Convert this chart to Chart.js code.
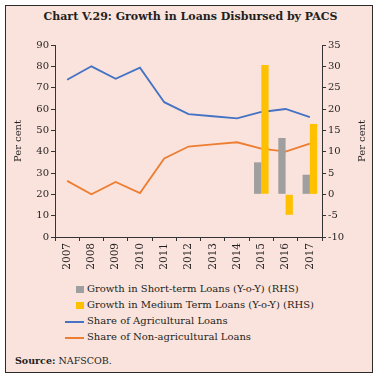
<!DOCTYPE html>
<html>
<head>
  <title>Chart V.29</title>
  <script src="https://cdn.jsdelivr.net/npm/chart.js"></script>
  <style>
    body { margin: 0; background: #fff; }
    #wrap { position: relative; width: 381px; height: 379px; }
    #frame { position: absolute; left: 5px; top: 5px; width: 366px; height: 366px;
             border: 1.5px solid #2b2b2b; background: #fae3dc; }
    #title { position: absolute; left: 0; top: 10px; width: 381px; text-align: center;
             font: bold 11px "DejaVu Serif"; color: #231f20; }
    #chartBox { position: absolute; left: 0; top: 0; width: 381px; height: 275px; }
    .leg { position: absolute; left: 65px; font: 10px "DejaVu Serif"; color: #231f20; white-space: nowrap; }
    .leg i { display: inline-block; vertical-align: middle; margin-right: 3px; }
    #source { position: absolute; left: 15px; top: 355px; font: 9.5px "DejaVu Serif"; color: #231f20; }
  </style>
</head>
<body>
<div id="wrap">
  <div id="frame"></div>
  <div id="title">Chart V.29: Growth in Loans Disbursed by PACS</div>
  <div id="chartBox"><canvas id="myChart"></canvas></div>
  <div id="legend"></div>
  <div id="source"><b>Source:</b> NAFSCOB.</div>
</div>
<script>
  // Datos
  var years = ['2007','2008','2009','2010','2011','2012','2013','2014','2015','2016','2017'];
  var shortTerm = [null, null, null, null, null, null, null, null, 7.5, 13.2, 4.6];
  var mediumTerm = [null, null, null, null, null, null, null, null, 30.3, -4.8, 16.5];
  var agriShare = [73.7, 80.0, 74.2, 79.4, 63.2, 57.6, 56.6, 55.6, 58.6, 60.0, 56.2];
  var nonAgriShare = [26.3, 20.0, 25.8, 20.6, 36.8, 42.4, 43.4, 44.4, 41.4, 40.0, 43.8];
  var leftTicks = [0, 10, 20, 30, 40, 50, 60, 70, 80, 90];
  var rightTicks = [-10, -5, 0, 5, 10, 15, 20, 25, 30, 35];

  var grey = '#a09f9f', yellow = '#ffc000', blue = '#4472c4', orange = '#ed7d31';
  var txt = '#231f20';
  var serif = 'DejaVu Serif';

  // Título del eje derecho, girado igual que el izquierdo
  var rightTitle = {
    id: 'rightTitle',
    afterDraw: function(chart) {
      var s = chart.scales.y1;
      var c = chart.ctx;
      c.save();
      c.translate(362, (s.top + s.bottom) / 2);
      c.rotate(-Math.PI / 2);
      c.fillStyle = txt;
      c.font = '10px "' + serif + '"';
      c.textAlign = 'center';
      c.textBaseline = 'middle';
      c.fillText('Per cent', 0, 0);
      c.restore();
    }
  };

  var ctx = document.getElementById('myChart').getContext('2d');
  var myChart = new Chart(ctx, {
    type: 'bar',
    data: {
      labels: years,
      datasets: [
        { label: 'Growth in Short-term Loans (Y-o-Y) (RHS)', data: shortTerm, backgroundColor: grey,
          yAxisID: 'y1', order: 1, categoryPercentage: 0.6, barPercentage: 1.0 },
        { label: 'Growth in Medium Term Loans (Y-o-Y) (RHS)', data: mediumTerm, backgroundColor: yellow,
          yAxisID: 'y1', order: 1, categoryPercentage: 0.6, barPercentage: 1.0 },
        { type: 'line', label: 'Share of Agricultural Loans', data: agriShare, borderColor: blue,
          borderWidth: 1.8, pointRadius: 0, tension: 0, yAxisID: 'y', order: 2 },
        { type: 'line', label: 'Share of Non-agricultural Loans', data: nonAgriShare, borderColor: orange,
          borderWidth: 1.8, pointRadius: 0, tension: 0, yAxisID: 'y', order: 2 }
      ]
    },
    options: {
      responsive: true,
      maintainAspectRatio: false,
      animation: false,
      layout: { padding: { top: 45, left: 0, right: 0, bottom: 0 } },
      plugins: { legend: { display: false }, tooltip: { enabled: false } },
      scales: {
        x: {
          grid: { drawOnChartArea: false, tickLength: 4, color: '#333' },
          border: { color: '#333' },
          ticks: { color: txt, font: { family: serif, size: 10.5 }, minRotation: 90, maxRotation: 90, padding: 2 },
          afterFit: function(s) { s.height = 38; }
        },
        y: {
          position: 'left', min: 0, max: 90,
          afterBuildTicks: function(s) { s.ticks = leftTicks.map(function(v) { return { value: v }; }); },
          grid: { drawOnChartArea: false, tickLength: 4, color: '#333' },
          border: { color: '#333' },
          ticks: { color: txt, font: { family: serif, size: 10 }, padding: 2 },
          title: { display: true, text: 'Per cent', color: txt, font: { family: serif, size: 10 }, padding: { top: 12, bottom: 0 } },
          afterFit: function(s) { s.width = 55; }
        },
        y1: {
          position: 'right', min: -10, max: 35,
          afterBuildTicks: function(s) { s.ticks = rightTicks.map(function(v) { return { value: v }; }); },
          grid: { drawOnChartArea: false, tickLength: 4, color: '#333' },
          border: { color: '#333' },
          ticks: { color: txt, font: { family: serif, size: 10 }, padding: 2 },
          afterFit: function(s) { s.width = 59; }
        }
      }
    },
    plugins: [rightTitle]
  });

  // Leyenda en HTML
  var legendTop = [283, 299, 315, 331];
  var legendHtml = '';
  myChart.data.datasets.forEach(function(ds, i) {
    var sym;
    if (ds.type === 'line') {
      sym = '<i style="width:19px;height:2px;background:' + ds.borderColor + '"></i>';
    } else {
      sym = '<i style="width:8px;height:7px;margin-left:11px;background:' + ds.backgroundColor + '"></i>';
    }
    legendHtml += '<div class="leg" style="top:' + legendTop[i] + 'px">' + sym + ds.label + '</div>';
  });
  document.getElementById('legend').innerHTML = legendHtml;
</script>
</body>
</html>
